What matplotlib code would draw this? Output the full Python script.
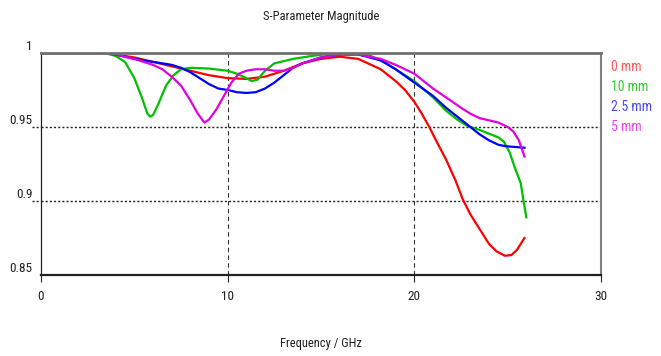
import matplotlib
matplotlib.use("Agg")
import matplotlib.pyplot as plt
from matplotlib import font_manager

# the reference uses a narrow UI font; take a condensed face if one is there
names = {f.name for f in font_manager.fontManager.ttflist}
narrow = [n for n in ["Liberation Sans Narrow", "DejaVu Sans Condensed", "Roboto Condensed"] if n in names]
plt.rcParams["font.family"] = narrow + ["DejaVu Sans"]

TITLE = "S-Parameter Magnitude"
XLABEL = "Frequency / GHz"

# 0 mm
f_0mm = [0, 3.4, 4.0, 5.0, 6.0, 7.0, 8.0, 9.0, 10.0, 11.0, 12.0, 13.0, 14.0, 15.0, 16.0, 17.0,
         18.2, 19.0, 19.5, 20.0, 20.4, 20.8, 21.2, 21.7, 22.2, 22.6, 23.0, 23.5, 24.0, 24.4,
         24.85, 25.2, 25.5, 25.9]
s_0mm = [1, 1, 0.999, 0.997, 0.994, 0.991, 0.988, 0.985, 0.983, 0.9825, 0.984, 0.988, 0.993, 0.996, 0.9975, 0.996,
         0.989, 0.981, 0.975, 0.967, 0.959, 0.950, 0.940, 0.928, 0.914, 0.901, 0.891, 0.881, 0.871, 0.866,
         0.863, 0.8635, 0.867, 0.875]

# 10 mm
f_10mm = [0, 3.4, 4.0, 4.5, 5.0, 5.4, 5.7, 5.85, 6.0, 6.3, 6.7, 7.1, 7.5, 8.0, 9.0, 10.0, 10.5,
          11.0, 11.3, 11.6, 12.0, 12.5, 13.5, 14.5, 15.5, 16.5, 17.5, 18.5, 19.5, 20.0, 21.0,
          21.7, 22.3, 22.8, 23.5, 24.0, 24.5, 24.8, 25.1, 25.4, 25.7, 25.85, 26.0]
s_10mm = [1, 1, 0.998, 0.994, 0.983, 0.970, 0.959, 0.957, 0.958, 0.966, 0.978, 0.985, 0.989, 0.990, 0.9895, 0.988, 0.986,
          0.983, 0.981, 0.982, 0.988, 0.993, 0.996, 0.998, 0.9995, 1.0, 0.999, 0.993, 0.985, 0.981, 0.970,
          0.961, 0.955, 0.951, 0.948, 0.9455, 0.943, 0.940, 0.933, 0.922, 0.912, 0.900, 0.889]

# 2.5 mm
f_25mm = [0, 3.4, 4.0, 5.0, 6.0, 7.0, 7.5, 8.0, 8.5, 9.0, 9.5, 10.0, 10.5, 11.0, 11.5, 12.0,
          12.5, 13.0, 13.5, 14.0, 15.0, 16.0, 17.0, 18.2, 19.0, 20.0, 21.0, 21.7, 22.5, 23.0,
          23.5, 24.0, 24.5, 24.9, 25.9]
s_25mm = [1, 1, 0.999, 0.996, 0.994, 0.992, 0.990, 0.987, 0.983, 0.979, 0.976, 0.975, 0.9735, 0.973, 0.9735, 0.976,
          0.980, 0.985, 0.990, 0.993, 0.997, 0.999, 0.999, 0.995, 0.989, 0.980, 0.971, 0.963, 0.955, 0.950,
          0.945, 0.941, 0.938, 0.937, 0.936]

# 5 mm
f_5mm = [0, 3.4, 4.0, 5.0, 6.0, 6.5, 7.0, 7.5, 8.0, 8.4, 8.75, 9.0, 9.4, 9.8, 10.2, 10.6, 11.0,
         11.5, 12.0, 12.5, 13.0, 13.5, 14.0, 15.0, 16.0, 17.0, 18.2, 19.0, 20.0, 21.0, 21.7,
         22.5, 23.0, 23.5, 24.0, 24.5, 25.0, 25.3, 25.6, 25.9]
s_5mm = [1, 1, 0.999, 0.996, 0.992, 0.989, 0.984, 0.978, 0.968, 0.959, 0.953, 0.955, 0.962, 0.971, 0.980, 0.986, 0.988,
         0.989, 0.989, 0.988, 0.988, 0.990, 0.993, 0.997, 0.999, 0.999, 0.996, 0.992, 0.986, 0.976, 0.970,
         0.963, 0.959, 0.956, 0.9545, 0.953, 0.950, 0.947, 0.941, 0.930]

labels = ["0 mm", "10 mm", "2.5 mm", "5 mm"]
line_colors = ["#ff0000", "#00c000", "#0000ff", "#e000e0"]
text_colors = ["#ff5a5a", "#33c833", "#4848ff", "#f040f0"]

x_ticks = [0, 10, 20, 30]
y_ticks = [0.85, 0.9, 0.95, 1.0]
y_ticklabels = ["0.85", "0.9", "0.95", "1"]

fig = plt.figure(figsize=(6.61, 3.56), dpi=100)
ax = fig.add_axes([41 / 661, 1 - 275 / 356, 560 / 661, 222 / 356])

series = [(f_0mm, s_0mm), (f_10mm, s_10mm), (f_25mm, s_25mm), (f_5mm, s_5mm)]
for (f, s), c in zip(series, line_colors):
    ax.plot(f, s, color=c, lw=1.6, solid_joinstyle="round")

ax.set_xlim(0, 30)
ax.set_ylim(0.85, 1.0)
ax.set_xticks(x_ticks)
ax.set_yticks(y_ticks)
ax.set_yticklabels(y_ticklabels)

for x in [10, 20]:
    ax.axvline(x, color="#333333", lw=0.8, ls=(0, (4, 3)), zorder=0)
for y in [0.9, 0.95]:
    ax.axhline(y, color="#222222", lw=1.0, ls=(0, (1.5, 1.5)), zorder=0)
    ax.plot([-0.5, 0], [y, y], color="#222222", lw=1.0, ls=(0, (1.5, 1.5)), clip_on=False)

ax.spines["top"].set_color("#707070")
ax.spines["top"].set_linewidth(2)
ax.spines["right"].set_color("#808080")
ax.spines["right"].set_linewidth(1.5)
ax.spines["bottom"].set_color("#222222")
ax.spines["bottom"].set_linewidth(1.6)
ax.spines["left"].set_color("#222222")
ax.spines["left"].set_linewidth(0.9)

ax.tick_params(axis="x", length=5, width=0.8, colors="#222222", labelsize=9.5, pad=6)
ax.tick_params(axis="y", length=0, labelsize=9.5, pad=6, colors="#222222")
for lab in ax.get_yticklabels():
    lab.set_verticalalignment("bottom")

ax.set_title(TITLE, fontsize=9, color="#222222", pad=24)
ax.set_xlabel(XLABEL, fontsize=9, color="#222222", labelpad=24)

for i, (lab, c) in enumerate(zip(labels, text_colors)):
    fig.text(611 / 661, 1 - (67 + i * 20) / 356, lab, color=c, fontsize=10, va="center", ha="left")

fig.savefig("out.png", dpi=100)
